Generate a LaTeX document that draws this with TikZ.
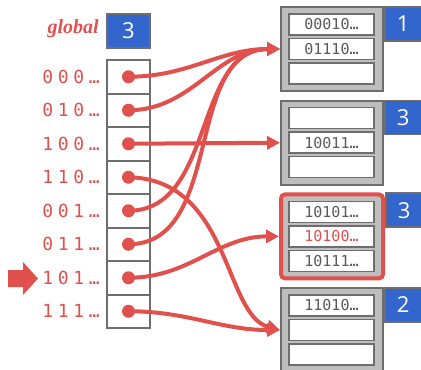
\documentclass[tikz,border=0pt]{standalone}
\usepackage{fontspec}
\usepackage{tikz}
\usetikzlibrary{arrows.meta,calc}
\newfontfamily\slotfont{DejaVu Sans Mono}
\newfontfamily\dirfont[LetterSpace=26]{DejaVu Sans Mono}
\newfontfamily\numfont{Open Sans}
\newfontfamily\glfont{Liberation Serif}
\definecolor{cred}{HTML}{E0504D}
\definecolor{cblue}{HTML}{3366CC}
\definecolor{cframe}{HTML}{6E6E6E}
\definecolor{cfill}{HTML}{BEBEBE}
\definecolor{cslot}{HTML}{5A5A5A}

\begin{document}
\begin{tikzpicture}[
  x=1pt, y=-1pt,
  >={Triangle[length=13pt, width=13pt]},
  cell/.style={draw=cframe, line width=2pt, fill=white, inner sep=0pt,
               minimum width=43pt, minimum height=33.5pt},
  dot/.style={circle, fill=cred, inner sep=0pt, minimum size=13pt},
  dirlbl/.style={text=cred, inner sep=0pt, font=\fontsize{18}{18}\dirfont},
  depth/.style={draw=cframe, line width=1.5pt, fill=cblue, text=white, inner sep=0pt,
                minimum width=37pt, minimum height=34pt, font=\fontsize{22}{22}\numfont},
  bucket/.style={draw=cframe, line width=2pt, fill=cfill, inner sep=0pt,
                 minimum width=102pt, minimum height=84pt},
  hot/.style={bucket, draw=cred, line width=4pt, rounded corners=4pt},
  slot/.style={draw=cframe, line width=1.5pt, fill=white, inner sep=0pt, text=cslot,
               minimum width=85pt, minimum height=21pt, font=\fontsize{15}{15}\slotfont},
  link/.style={->, draw=cred, line width=4pt},
]
\useasboundingbox (0,0) rectangle (421,370);

% ---- global depth ----
\node[text=cred, anchor=base east, inner sep=0pt, font=\fontsize{20}{20}\glfont\bfseries\itshape]
  (glbl) at (99,33) {global};
\node[depth, minimum width=43pt] (gdepth) at (128.5,31) {3};

% ---- directory ----
\foreach \lbl [count=\i] in {000,010,100,110,001,011,101,111} {
  \node[cell] (d\i) at (128.5, {60+33.5*(\i-0.5)}) {};
  \node[dot] (p\i) at (d\i.center) {};
  \node[dirlbl, anchor=east] (l\i) at (100, {60+33.5*(\i-0.5)}) {\lbl…};
}
\fill[cred] (8,270) -- (23,270) -- (23,262) -- (38,278.5) -- (23,295) -- (23,287) -- (8,287) -- cycle;

% ---- buckets ----
\node[bucket] (b1) at (332,49) {};
\node[bucket] (b2) at (332,142.7) {};
\node[hot] (b3) at (332,236.4) {};
\node[bucket] (b4) at (332,330) {};
\foreach \b in {1,2,3,4} {
  \node[slot] (b\b s1) at ($(b\b.center)+(-0.5,-24.5)$) {};
  \node[slot] (b\b s2) at ($(b\b.center)+(-0.5,0)$) {};
  \node[slot] (b\b s3) at ($(b\b.center)+(-0.5,24.5)$) {};
}
\node at (b1s1) [font=\fontsize{15}{15}\slotfont, text=cslot] {00010…};
\node at (b1s2) [font=\fontsize{15}{15}\slotfont, text=cslot] {01110…};
\node at (b2s2) [font=\fontsize{15}{15}\slotfont, text=cslot] {10011…};
\node at (b3s1) [font=\fontsize{15}{15}\slotfont, text=cslot] {10101…};
\node at (b3s2) [font=\fontsize{15}{15}\slotfont, text=cred] {10100…};
\node at (b3s3) [font=\fontsize{15}{15}\slotfont, text=cslot] {10111…};
\node at (b4s1) [font=\fontsize{15}{15}\slotfont, text=cslot] {11010…};

% ---- local depths ----
\node[depth, anchor=north west] (h1) at (b1.north east) {1};
\node[depth, anchor=north west] (h2) at (b2.north east) {3};
\node[depth, anchor=north west] (h3) at (b3.north east) {3};
\node[depth, anchor=north west] (h4) at (b4.north east) {2};

% ---- pointers ----
\draw[link] (p1.center) to[out=0,in=180] (b1.west);
\draw[link] (p2.center) to[out=0,in=180] (b1.west);
\draw[link] (p3.center) -- (b2.west);
\draw[link] (p4.center) .. controls +(102,2) and +(-56,-15) .. (b4.west);
\draw[link] (p5.center) to[out=0,in=180] (b1.west);
\draw[link] (p6.center) to[out=0,in=180] (b1.west);
\draw[link] (p7.center) to[out=0,in=180] (b3.west);
\draw[link] (p8.center) to[out=0,in=180] (b4.west);
\end{tikzpicture}
\end{document}
